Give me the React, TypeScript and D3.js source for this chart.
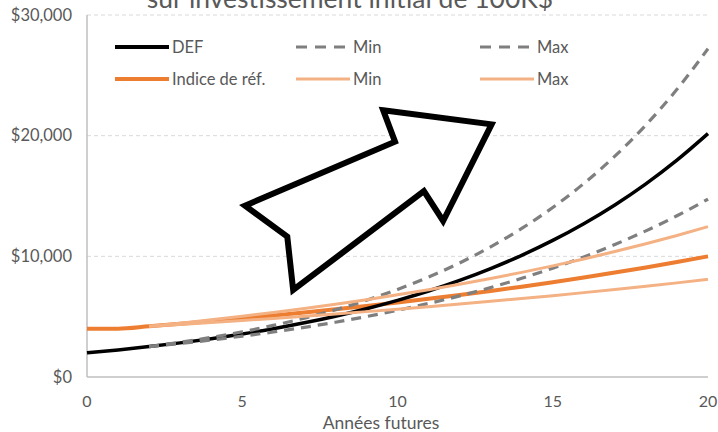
import React from "react";
import * as d3 from "d3";

const years = d3.range(0, 21);
const defValues = [2000, 2245, 2520, 2829, 3175, 3564, 4001, 4491, 5041, 5659, 6352, 7130, 8003, 8984, 10084, 11319, 12706, 14262, 16010, 17971, 20172];
const refValues = [4000, 4000, 4198, 4405, 4623, 4851, 5091, 5342, 5606, 5883, 6174, 6479, 6799, 7135, 7487, 7857, 8245, 8653, 9080, 9529, 10000];
const rangeYears = d3.range(2, 21);
const defMin = [2520, 2780, 3066, 3383, 3731, 4116, 4540, 5008, 5525, 6094, 6722, 7415, 8180, 9023, 9953, 10979, 12111, 13360, 14737];
const defMax = [2520, 2876, 3283, 3747, 4276, 4880, 5570, 6357, 7255, 8280, 9450, 10786, 12310, 14049, 16035, 18300, 20886, 23838, 27206];
const refMin = [4198, 4354, 4515, 4683, 4857, 5037, 5224, 5418, 5619, 5828, 6044, 6268, 6501, 6742, 6993, 7252, 7521, 7801, 8090];
const refMax = [4198, 4460, 4737, 5033, 5346, 5679, 6033, 6409, 6808, 7233, 7683, 8162, 8671, 9211, 9785, 10395, 11042, 11730, 12460];

const yTicks = [0, 10000, 20000, 30000];
const xTicks = [0, 5, 10, 15, 20];
const title = "sur investissement initial de 100K$";
const xTitle = "Années futures";

// arrow annotation vertices in data units (years, $)
const arrowX = [9.54, 13.03, 11.47, 10.85, 6.64, 6.45, 5.09, 9.92];
const arrowY = [22100, 20940, 12930, 15410, 7210, 11630, 14200, 19500];

const legendLabels = ["DEF", "Min", "Max", "Indice de réf.", "Min", "Max"];

const FONT = "Lato, 'Open Sans', sans-serif";
const TXT = "#595959";

export default function App() {
  const W = 718, H = 432;
  const x = d3.scaleLinear().domain([0, 20]).range([87, 708]);
  const y = d3.scaleLinear().domain([0, 30000]).range([377, 15]);
  const line = d3
    .line<[number, number]>()
    .x((d) => x(d[0]))
    .y((d) => y(d[1]))
    .curve(d3.curveMonotoneX);

  const mk = (xs: number[], vs: number[]) => xs.map((v, i) => [v, vs[i]] as [number, number]);

  const series = [
    { d: mk(years, refValues), stroke: "#ED7D31", w: 4, dash: undefined },
    { d: mk(years, defValues), stroke: "#000000", w: 3.5, dash: undefined },
    { d: mk(rangeYears, defMin), stroke: "#7F7F7F", w: 3.2, dash: "10 7" },
    { d: mk(rangeYears, defMax), stroke: "#7F7F7F", w: 3.2, dash: "10 7" },
    { d: mk(rangeYears, refMin), stroke: "#F4B183", w: 3, dash: undefined },
    { d: mk(rangeYears, refMax), stroke: "#F4B183", w: 3, dash: undefined },
  ];

  const legendStyles = [
    { stroke: "#000000", w: 4, dash: undefined },
    { stroke: "#7F7F7F", w: 3, dash: "11 8" },
    { stroke: "#7F7F7F", w: 3, dash: "11 8" },
    { stroke: "#ED7D31", w: 4, dash: undefined },
    { stroke: "#F4B183", w: 3, dash: undefined },
    { stroke: "#F4B183", w: 3, dash: undefined },
  ];
  const legendCols = [115, 296, 480];
  const legendRows = [47, 79];

  const arrowPts = arrowX.map((v, i) => [x(v), y(arrowY[i])].join(",")).join(" ");

  return (
    <svg
      width={W}
      height={H}
      style={{ position: "absolute", left: 0, top: 0, background: "#fff" }}
      fontFamily={FONT}
    >
      <rect x={0} y={0} width={W} height={H} fill="#fff" />
      <text x={350} y={8} textAnchor="middle" fontSize={26.5} fill={TXT}>
        {title}
      </text>
      {yTicks.map((t) => (
        <g key={t}>
          {t > 0 && (
            <line x1={x(0)} x2={x(20)} y1={y(t)} y2={y(t)} stroke="#D9D9D9" strokeWidth={1} strokeDasharray="4 3" />
          )}
          <text x={72} y={y(t) + 5.5} textAnchor="end" fontSize={16.5} fill={TXT}>
            {"$" + d3.format(",")(t)}
          </text>
        </g>
      ))}
      <line x1={x(0)} x2={x(0)} y1={y(30000)} y2={y(0)} stroke="#BFBFBF" strokeWidth={1.5} />
      <line x1={x(0)} x2={x(20)} y1={y(0)} y2={y(0)} stroke="#BFBFBF" strokeWidth={1.5} />
      {xTicks.map((t) => (
        <text key={t} x={x(t)} y={406.5} textAnchor="middle" fontSize={16} fill={TXT}>
          {t}
        </text>
      ))}
      <text x={381} y={428.5} textAnchor="middle" fontSize={17.5} fill={TXT}>
        {xTitle}
      </text>

      {series.map((s, i) => (
        <path
          key={i}
          d={line(s.d) || ""}
          fill="none"
          stroke={s.stroke}
          strokeWidth={s.w}
          strokeDasharray={s.dash}
        />
      ))}

      <polygon points={arrowPts} fill="#fff" stroke="#000" strokeWidth={6} strokeLinejoin="miter" />

      {legendLabels.map((lab, i) => {
        const cx = legendCols[i % 3];
        const cy = legendRows[Math.floor(i / 3)];
        const st = legendStyles[i];
        return (
          <g key={i}>
            <line x1={cx} x2={cx + 54} y1={cy} y2={cy} stroke={st.stroke} strokeWidth={st.w} strokeDasharray={st.dash} />
            <text x={cx + 57} y={cy + 6} fontSize={16.5} fill={TXT}>
              {lab}
            </text>
          </g>
        );
      })}
    </svg>
  );
}
